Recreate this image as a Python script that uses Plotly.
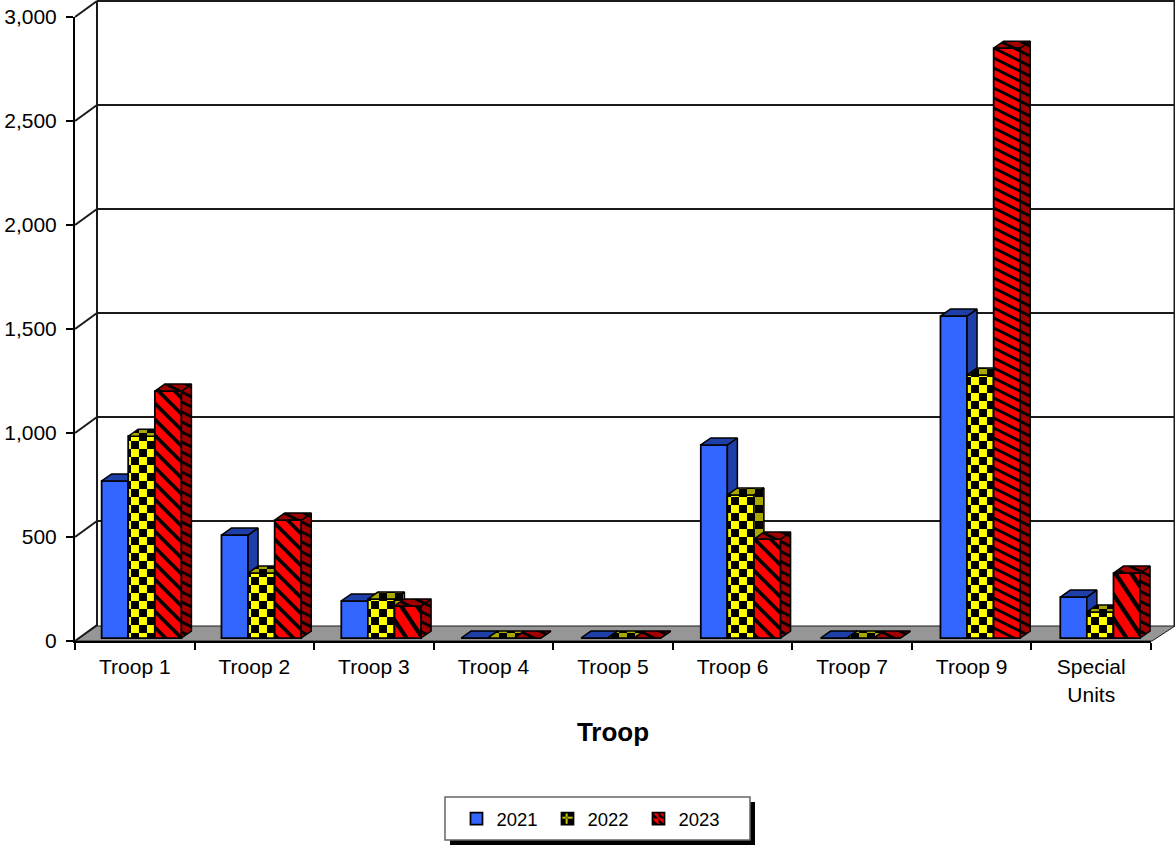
import plotly.graph_objects as go

categories = ["Troop 1", "Troop 2", "Troop 3", "Troop 4", "Troop 5", "Troop 6", "Troop 7", "Troop 9", "Special<br>Units"]
years = ["2021", "2022", "2023"]
values_2021 = [755, 495, 178, 0, 0, 928, 0, 1548, 197]
values_2022 = [970, 312, 187, 0, 0, 688, 0, 1264, 125]
values_2023 = [1187, 567, 154, 0, 0, 476, 0, 2836, 312]
y_ticks = [0, 500, 1000, 1500, 2000, 2500, 3000]

FRONT = ["#3366ff", "#ffff00", "#ff0000"]
DARK = ["#1f3fa8", "#a8a800", "#a00000"]
FONT = "Liberation Sans"

L, R, T, B = 75, 1151, 17, 641
BAR_W = 0.2224
OFFS = [-0.166, 0.056, 0.279]
PITCH = 1.0023
BASE = 14.4
DX = 10 / 119.6
DY = 33.6

CHECK = "M0,0H8V8H0ZM8,8H16V16H8Z"


def stripe(slope, period):
    # square tile holding black bands that fall to the right
    hrep = period / slope
    n = 1
    while abs(n * period / hrep - round(n * period / hrep)) > 1e-6 or abs(n * period - round(n * period)) > 1e-6:
        n += 1
    size = n * period
    th = period * 0.32
    rise = slope * size
    d = ""
    o = -rise - period
    while o < size + period:
        d += f"M0,{o:g}L{size:g},{o + rise:g}L{size:g},{o + rise + th:g}L0,{o + th:g}Z"
        o += period
    return d, size


def stripe_for(v):
    # the stripes of the reference get tighter and flatter as a bar gets taller
    if v > 2000:
        return stripe(0.5, 10)
    if v > 400:
        return stripe(1, 16)
    return stripe(1.5, 24)


def pattern(k, bg, vals):
    if k == 1:
        return dict(path=CHECK, size=16, fgcolor="black", bgcolor=bg, fgopacity=1, solidity=1)
    tiles = [stripe_for(v) for v in vals]
    return dict(path=[t[0] for t in tiles], size=[t[1] for t in tiles], fgcolor="black", bgcolor=bg,
                fgopacity=1, solidity=1)


def px(x):
    return (x - L) / (R - L)


def py(y):
    return (B - y) / (B - T)


fig = go.Figure()
fig.add_trace(go.Scatter(x=categories, y=[0] * len(categories), mode="none", showlegend=False, hoverinfo="skip"))

for k, vals in enumerate([values_2021, values_2022, values_2023]):
    ax = f"x{k + 2}"
    xs = [i * PITCH + OFFS[k] for i in range(len(vals))]
    marker = dict(color=FRONT[k], line=dict(color="black", width=1.75))
    if k:
        marker["pattern"] = pattern(k, FRONT[k], vals)
    fig.add_trace(go.Bar(x=xs, y=vals, base=BASE, width=BAR_W, name=years[k], marker=marker, xaxis=ax, yaxis="y"))
    sx, sy, tx, ty = [], [], [], []
    for x, v in zip(xs, vals):
        r = x + BAR_W / 2
        l = x - BAR_W / 2
        t = v + BASE
        sx += [r, r + DX, r + DX, r, r, None]
        sy += [BASE, BASE + DY, t + DY, t, BASE, None]
        tx += [l, l + DX, r + DX, r, l, None]
        ty += [t, t + DY, t + DY, t, t, None]
    for X, Y, pv in ((sx, sy, max(vals)), (tx, ty, 3000)):
        kw = {}
        if k == 1:
            kw["fillpattern"] = dict(path=CHECK, size=16, fgcolor="black", bgcolor=DARK[k], fgopacity=1, solidity=1)
        elif k == 2:
            p, s = stripe_for(pv)
            kw["fillpattern"] = dict(path=p, size=s, fgcolor="black", bgcolor=DARK[k], fgopacity=1, solidity=1)
        fig.add_trace(go.Scatter(x=X, y=Y, mode="lines", fill="toself", fillcolor=DARK[k],
                                 line=dict(color="black", width=1.5), showlegend=False,
                                 hoverinfo="skip", xaxis=ax, yaxis="y", **kw))

shapes = []


def line(x0, y0, x1, y1, w=2, c="#1a1a1a"):
    shapes.append(dict(type="line", xref="paper", yref="paper", x0=px(x0), y0=py(y0), x1=px(x1), y1=py(y1),
                       line=dict(color=c, width=w), layer="below"))


shapes.append(dict(type="path", xref="paper", yref="paper", layer="below", fillcolor="#969696",
                   line=dict(color="#1a1a1a", width=1),
                   path=f"M{px(75)},{py(641)}L{px(97)},{py(626)}L{px(1175)},{py(626)}L{px(1152)},{py(641)}Z"))
for v in y_ticks:
    y = B - v * (B - T) / 3000
    line(75, y, 97, y - 16)
    if v:
        line(97, y - 16, 1175, y - 16)
line(97, 1, 97, 626)
line(1174.5, 1, 1174.5, 626)
# legend frame and its shadow
shapes.append(dict(type="rect", xref="paper", yref="paper", x0=px(450), x1=px(755), y0=py(802), y1=py(845),
                   fillcolor="black", line=dict(width=0), layer="below"))
shapes.append(dict(type="rect", xref="paper", yref="paper", x0=px(445), x1=px(750), y0=py(797), y1=py(840),
                   fillcolor="white", line=dict(color="#666666", width=1.5), layer="below"))

layout = dict(
    width=1175, height=846, margin=dict(l=L, r=1175 - R, t=T, b=846 - B, pad=0, autoexpand=False),
    paper_bgcolor="white", plot_bgcolor="rgba(0,0,0,0)", barmode="overlay",
    font=dict(family=FONT, size=21, color="black"), shapes=shapes,
    xaxis=dict(type="category", categoryorder="array", categoryarray=categories, range=[-0.5, 8.5],
               tickson="boundaries", ticks="outside", ticklen=7, tickwidth=1.5, tickcolor="black",
               showline=True, linecolor="black", linewidth=2, showgrid=False, zeroline=False,
               tickfont=dict(size=21), ticklabelstandoff=6,
               title=dict(text="<b>Troop</b>", font=dict(size=26), standoff=18)),
    yaxis=dict(range=[0, 3000], tickvals=y_ticks, tickformat=",d", ticks="outside", ticklen=7, tickwidth=1.5,
               tickcolor="black", showline=True, linecolor="black", linewidth=2, showgrid=False, zeroline=False,
               tickfont=dict(size=21), ticklabelstandoff=5),
    legend=dict(orientation="h", x=px(593), xanchor="center", y=py(819), yanchor="middle", bgcolor="rgba(0,0,0,0)",
                font=dict(size=18.5), entrywidth=46, entrywidthmode="pixels", traceorder="normal"),
)
for k in range(3):
    layout[f"xaxis{k + 2}"] = dict(overlaying="x", range=[-0.5, 8.5], visible=False, anchor="y")
fig.update_layout(**layout)

fig.write_html("out.html", config=dict(displayModeBar=False),
               post_script="document.body.style.margin='0';document.body.style.overflow='hidden';")
